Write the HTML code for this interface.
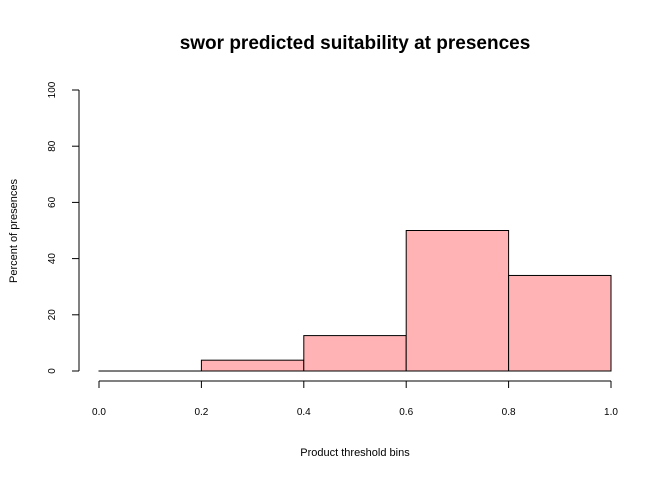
<!DOCTYPE html>
<html><head><meta charset="utf-8"><style>
body{margin:0;background:#fff}
svg text{font-family:"Liberation Sans",Arial,sans-serif;fill:#000}
</style></head><body>
<svg id="c" width="672" height="480" xmlns="http://www.w3.org/2000/svg">
<text x="355" y="49" font-size="19" font-weight="bold" text-anchor="middle">swor predicted suitability at presences</text>
<text x="355" y="456" font-size="11" text-anchor="middle">Product threshold bins</text>
<text transform="translate(17,231) rotate(-90)" font-size="11" text-anchor="middle">Percent of presences</text>
<g id="bars"></g><g id="xax"></g><g id="yax"></g>
</svg>
<script>
const binStarts=[0,0.2,0.4,0.6,0.8];
const binEnds=[0.2,0.4,0.6,0.8,1.0];
const percents=[0,3.85,12.6,50,34];
const xTicks=["0.0","0.2","0.4","0.6","0.8","1.0"];
const yTicks=[0,20,40,60,80,100];
const ns="http://www.w3.org/2000/svg";
const X=v=>99+v*512, Y=v=>371-v*2.81;
function mk(t,a,p){const e=document.createElementNS(ns,t);for(const k in a)e.setAttribute(k,a[k]);p.appendChild(e);return e;}
const bars=document.getElementById('bars');
percents.forEach((v,i)=>{
 const r=mk('rect',{x:X(binStarts[i]),y:Y(v),width:X(binEnds[i])-X(binStarts[i]),height:Math.max(Y(0)-Y(v),0.01),fill:'#ffb3b5',stroke:'#000','stroke-width':1},bars);
 
 
});
const xa=document.getElementById('xax');
mk('line',{x1:X(0),x2:X(1),y1:381,y2:381,stroke:'#000'},xa);
xTicks.forEach(t=>{const v=parseFloat(t);
 mk('line',{x1:X(v),x2:X(v),y1:381,y2:388,stroke:'#000'},xa);
 const e=mk('text',{x:X(v),y:415,'font-size':10,'text-anchor':'middle'},xa);e.textContent=t;
 
 
});
const ya=document.getElementById('yax');
mk('line',{x1:79,x2:79,y1:Y(0),y2:Y(100),stroke:'#000'},ya);
yTicks.forEach(v=>{
 mk('line',{x1:72,x2:79,y1:Y(v),y2:Y(v),stroke:'#000'},ya);
 const e=mk('text',{transform:`translate(55,${Y(v)}) rotate(-90)`,'font-size':10,'text-anchor':'middle'},ya);e.textContent=v;
 
 
});
</script>
</body></html>
